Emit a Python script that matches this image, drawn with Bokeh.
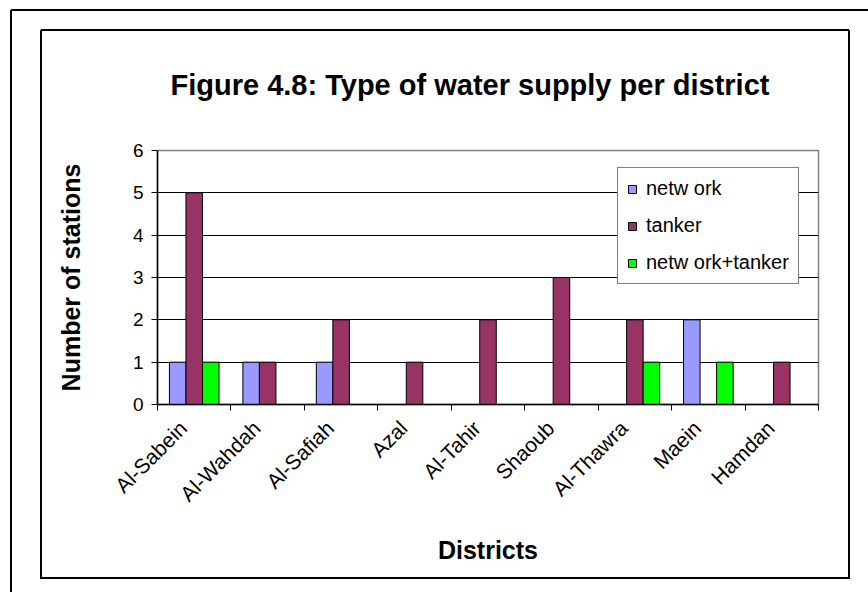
import math
from bokeh.plotting import figure
from bokeh.models import Range1d, FixedTicker, Legend
from bokeh.embed import file_html
from bokeh.resources import INLINE

# Districts and number of stations by type of water supply
districts = ["Al-Sabein", "Al-Wahdah", "Al-Safiah", "Azal", "Al-Tahir",
             "Shaoub", "Al-Thawra", "Maein", "Hamdan"]
network = [1, 1, 1, 0, 0, 0, 0, 2, 0]
tanker = [5, 1, 2, 1, 2, 3, 2, 0, 1]
network_tanker = [1, 0, 0, 0, 0, 0, 1, 1, 0]
series_names = ["netw ork", "tanker", "netw ork+tanker"]
y_ticks = [0, 1, 2, 3, 4, 5, 6]

FONT = "Liberation Sans"
W, H = 868, 592
FL, FR, FT, FB = 157, 818, 150, 404  # frame edges in canvas pixels


def hline(x0, x1, y, t=2):
    return (f"{x1 - x0}px {t}px", f"{x0}px {y - t // 2}px")


def vline(x, y0, y1, t=2):
    return (f"{t}px {y1 - y0}px", f"{x - t // 2}px {y0}px")


# page frame (open to the right and bottom) and chart-area box
frame_lines = [
    hline(11, W, 10), vline(11, 10, H),
    hline(41, 849, 30), hline(41, 849, 578), vline(41, 30, 579), vline(849, 30, 579),
]

p = figure(width=W, height=H, output_backend="svg", toolbar_location=None,
           x_range=Range1d(0, len(districts)), y_range=Range1d(0, 6),
           min_border_left=FL, min_border_right=W - FR,
           min_border_top=FT, min_border_bottom=H - FB)
p.background_fill_color = "white"
p.border_fill_alpha = 0
p.outline_line_color = "#808080"
p.outline_line_width = 1.5
p.styles = {
    "background-color": "white",
    "background-image": ", ".join(["linear-gradient(#000, #000)"] * len(frame_lines)),
    "background-size": ", ".join(s for s, _ in frame_lines),
    "background-position": ", ".join(pos for _, pos in frame_lines),
    "background-repeat": "no-repeat",
}

# bars: three per district, side by side
bw = 0.225
centers = [i + 0.5 for i in range(len(districts))]
colors = ["#9999FF", "#993366", "#00FF00"]
renderers = []
for k, (vals, col) in enumerate(zip([network, tanker, network_tanker], colors)):
    xs = [c + (k - 1) * bw for c in centers]
    r = p.vbar(x=xs, top=vals, bottom=0, width=bw, fill_color=col,
               line_color="black", line_width=1)
    renderers.append(r)

# grid
p.xgrid.visible = False
p.ygrid.ticker = FixedTicker(ticks=[1, 2, 3, 4, 5])
p.ygrid.grid_line_color = "black"
p.ygrid.grid_line_width = 1

# x axis: rotated names slightly left of the category centres,
# tick marks at the category boundaries
label_pos = [round(c - 0.15, 3) for c in centers]
xa = p.xaxis[0]
xa.ticker = FixedTicker(ticks=label_pos, minor_ticks=list(range(len(districts) + 1)))
xa.major_label_overrides = {c: d for c, d in zip(label_pos, districts)}
xa.major_tick_line_color = None
xa.minor_tick_line_color = "black"
xa.minor_tick_in = 0
xa.minor_tick_out = 6
xa.axis_line_color = "black"
xa.axis_line_width = 1.5
xa.major_label_orientation = math.pi / 4
xa.major_label_text_font = FONT
xa.major_label_text_font_size = "21px"
xa.major_label_text_color = "black"
xa.major_label_standoff = 14
xa.axis_label = "Districts"
xa.axis_label_text_font = FONT
xa.axis_label_text_font_style = "bold"
xa.axis_label_text_font_size = "25px"
xa.axis_label_text_color = "black"
xa.axis_label_standoff = 19

ya = p.yaxis[0]
ya.ticker = FixedTicker(ticks=y_ticks)
ya.major_tick_line_color = "black"
ya.major_tick_in = 0
ya.major_tick_out = 6
ya.minor_tick_line_color = None
ya.axis_line_color = "black"
ya.axis_line_width = 1.5
ya.major_label_text_font = FONT
ya.major_label_text_font_size = "19px"
ya.major_label_text_color = "black"
ya.major_label_standoff = 8
ya.axis_label = "Number of stations"
ya.axis_label_text_font = FONT
ya.axis_label_text_font_style = "bold"
ya.axis_label_text_font_size = "25px"
ya.axis_label_text_color = "black"
ya.axis_label_standoff = 45

# legend
legend = Legend(items=[(n, [r]) for n, r in zip(series_names, renderers)],
                location=(FR - FL - 201, FB - 284))
legend.label_text_font = FONT
legend.label_text_font_size = "20px"
legend.label_text_color = "black"
legend.glyph_width = 10
legend.glyph_height = 10
legend.label_height = 20
legend.label_standoff = 9
legend.spacing = 14
legend.padding = 9
legend.margin = 0
legend.border_line_color = "black"
legend.border_line_width = 1
legend.background_fill_color = "white"
legend.background_fill_alpha = 1
p.add_layout(legend)

# chart title
p.title.text = "Figure 4.8: Type of water supply per district"
p.title.text_font = FONT
p.title.text_font_style = "bold"
p.title.text_font_size = "29px"
p.title.text_color = "black"
p.title.align = "left"
p.title.offset = 13
p.title.standoff = 100

open("out.html", "w").write(file_html(p, INLINE))
